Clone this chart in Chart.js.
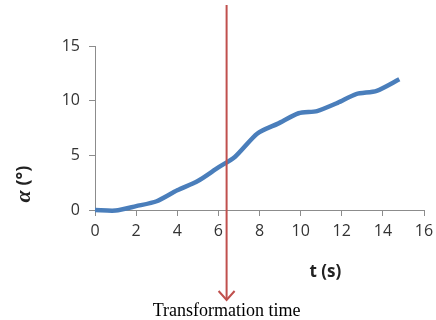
<!DOCTYPE html>
<html>
<head>
<meta charset="utf-8">
<script src="https://cdn.jsdelivr.net/npm/chart.js@4/dist/chart.umd.min.js"></script>
<style>
  html, body { margin: 0; padding: 0; background: #fff; }
  #wrap { width: 436px; height: 320px; }
</style>
</head>
<body>
<div id="wrap"><canvas id="chart" width="436" height="320"></canvas></div>
<script>
// time (s) and angle (deg)
const tValues = [0, 1, 2, 3, 4, 5, 6, 6.8, 7.9, 8.9, 9.9, 10.8, 11.8, 12.7, 13.7, 14.8];
const alphaValues = [0, -0.05, 0.35, 0.8, 1.8, 2.65, 3.9, 4.85, 7.0, 7.9, 8.85, 9.05, 9.8, 10.6, 10.9, 11.95];
const markerTime = 6.4;
const markerLabel = 'Transformation time';
const xTitle = 't (s)';

const points = tValues.map((t, i) => ({ x: t, y: alphaValues[i] }));

// titles + red marker arrow drawn by hand
const extras = {
    id: 'extras',
    afterDatasetsDraw(chart) {
        const ctx = chart.ctx;
        const x = chart.scales.x.getPixelForValue(markerTime);
        ctx.save();
        ctx.strokeStyle = '#c0504d';
        ctx.lineWidth = 2;
        ctx.beginPath();
        ctx.moveTo(x, 5);
        ctx.lineTo(x, 300);
        ctx.stroke();
        ctx.beginPath();
        ctx.moveTo(x - 8, 291);
        ctx.lineTo(x, 300);
        ctx.lineTo(x + 8, 291);
        ctx.stroke();

        ctx.fillStyle = '#000';
        ctx.font = '18px "Liberation Serif"';
        ctx.textAlign = 'center';
        ctx.textBaseline = 'middle';
        ctx.fillText(markerLabel, x, 311);

        // x title
        ctx.font = 'bold 17px "Open Sans"';
        ctx.fillStyle = '#222';
        ctx.fillText(xTitle, chart.scales.x.getPixelForValue(11.2), 272);

        // y title, rotated
        ctx.translate(24, 184);
        ctx.rotate(-Math.PI / 2);
        ctx.textAlign = 'left';
        const a = '\u03B1';
        const rest = ' (\u00B0)';
        ctx.font = 'bold 18px "Open Sans"';
        const wRest = ctx.measureText(rest).width;
        ctx.font = 'bold italic 22px "Liberation Serif"';
        const wA = ctx.measureText(a).width;
        const start = -(wA + wRest) / 2;
        ctx.fillText(a, start, 0);
        ctx.font = 'bold 18px "Open Sans"';
        ctx.fillText(rest, start + wA, 0);
        ctx.restore();
    }
};

const axisColor = '#8c8c8c';
const tickFont = { family: '"Open Sans"', size: 16 };

new Chart(document.getElementById('chart'), {
    type: 'line',
    data: {
        datasets: [{
            data: points,
            borderColor: '#4a7ebb',
            borderWidth: 4.5,
            pointRadius: 0,
            tension: 0.25,
            fill: false,
            clip: false
        }]
    },
    options: {
        responsive: false,
        animation: false,
        layout: { padding: { top: 46, right: 12, left: 0, bottom: 0 } },
        plugins: { legend: { display: false }, tooltip: { enabled: false } },
        scales: {
            x: {
                type: 'linear',
                min: 0, max: 16,
                ticks: { stepSize: 2, color: '#333', font: tickFont, padding: 6, maxRotation: 0 },
                grid: { drawOnChartArea: false, drawTicks: true, tickLength: 6, color: axisColor },
                border: { color: axisColor },
                afterFit: (s) => { s.height = 110; s.paddingRight = 0; s.paddingLeft = 0; }
            },
            y: {
                min: 0, max: 15,
                ticks: { stepSize: 5, color: '#333', font: tickFont, padding: 9 },
                grid: { drawOnChartArea: false, drawTicks: true, tickLength: 6, color: axisColor },
                border: { color: axisColor },
                afterFit: (s) => { s.width = 95; s.paddingTop = 0; s.paddingBottom = 0; }
            }
        }
    },
    plugins: [extras]
});
</script>
</body>
</html>
